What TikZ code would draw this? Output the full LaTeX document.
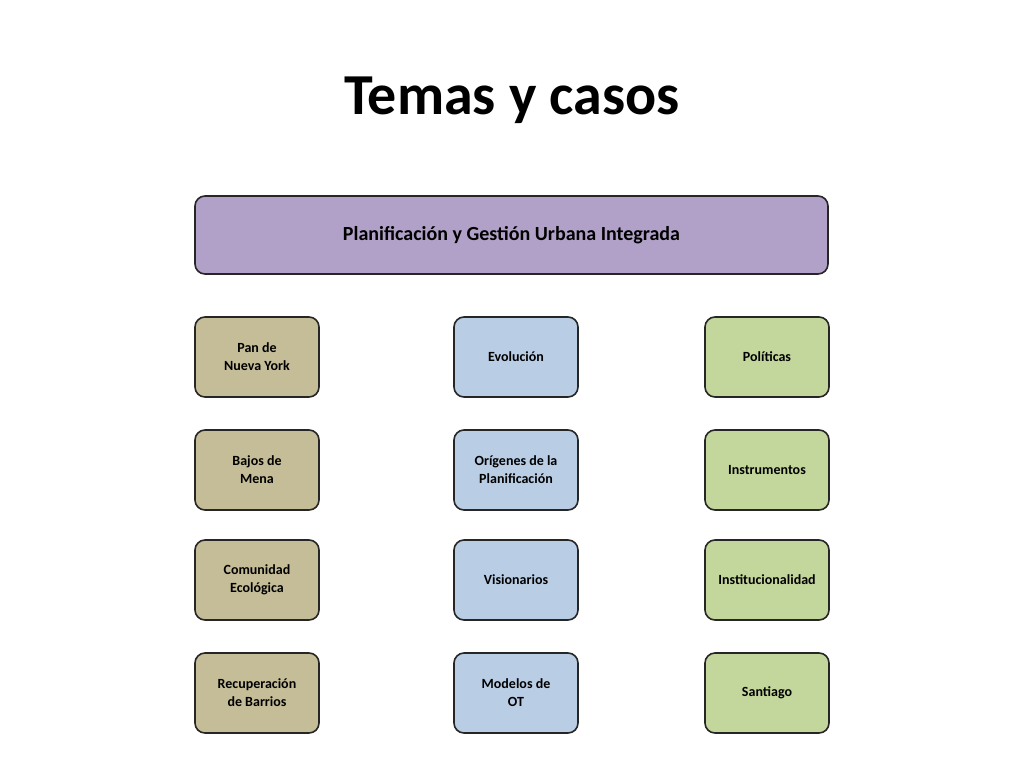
\documentclass[tikz,border=0pt]{standalone}
\usepackage{fontspec}
\setmainfont{Carlito}
\begin{document}
\begin{tikzpicture}[x=1pt,y=-1pt,
  box/.style={draw=black!85,line width=1.6pt,rounded corners=10pt,minimum width=124pt,minimum height=80pt,align=center,font=\bfseries\fontsize{14}{18}\selectfont},
  tan/.style={box,fill=tanc},blu/.style={box,fill=bluc},grn/.style={box,fill=grnc}]
\definecolor{tanc}{HTML}{C4BD97}\definecolor{bluc}{HTML}{B9CDE5}\definecolor{grnc}{HTML}{C3D69B}\definecolor{purc}{HTML}{B1A0C7}
\useasboundingbox (0,0) rectangle (1024,768);
\node[font=\bfseries\fontsize{58}{64}\selectfont] (title) at (512,100) {Temas y casos};
\node[box,fill=purc,minimum width=633pt,minimum height=78pt,font=\bfseries\fontsize{20}{24}\selectfont] (top) at (511.5,235) {Planificación y Gestión Urbana Integrada};
\node[tan] (a1) at (257,357) {Pan de\\Nueva York};
\node[tan] (a2) at (257,470) {Bajos de\\Mena};
\node[tan] (a3) at (257,580) {Comunidad\\Ecológica};
\node[tan] (a4) at (257,693) {Recuperación\\de Barrios};
\node[blu] (b1) at (516,357) {Evolución};
\node[blu] (b2) at (516,470) {Orígenes de la\\Planificación};
\node[blu] (b3) at (516,580) {Visionarios};
\node[blu] (b4) at (516,693) {Modelos de\\OT};
\node[grn] (c1) at (767,357) {Políticas};
\node[grn] (c2) at (767,470) {Instrumentos};
\node[grn] (c3) at (767,580) {Institucionalidad};
\node[grn] (c4) at (767,693) {Santiago};
\end{tikzpicture}
\end{document}
